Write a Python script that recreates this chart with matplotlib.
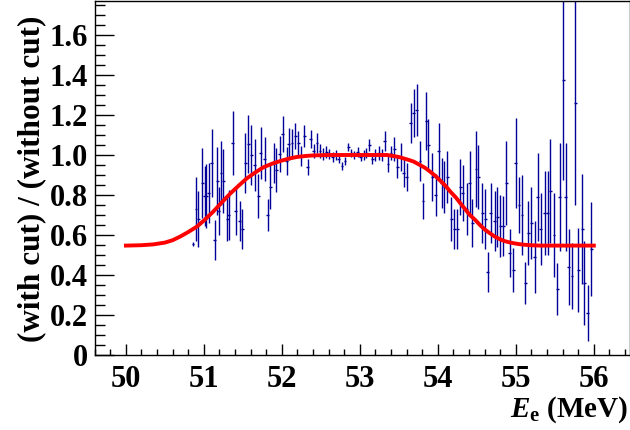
import matplotlib
matplotlib.use("Agg")
import matplotlib.pyplot as plt
from matplotlib.ticker import MultipleLocator, FuncFormatter

# measured ratio points (E in MeV)
e_vals = [50.86, 50.90, 50.93, 50.98, 51.01, 51.03, 51.06, 51.10, 51.14, 51.17,
          51.19, 51.22, 51.25, 51.30, 51.32, 51.37, 51.41, 51.46, 51.49, 51.53,
          51.57, 51.61, 51.65, 51.70, 51.73, 51.78, 51.82,
          51.85, 51.90, 51.93, 51.97, 52.01, 52.06, 52.09, 52.13, 52.17, 52.21,
          52.25, 52.29, 52.33, 52.37, 52.41, 52.45, 52.49, 52.53, 52.57, 52.61,
          52.65, 52.69, 52.73, 52.77, 52.81,
          52.85, 52.89, 52.93, 52.97, 53.01, 53.05, 53.08, 53.12, 53.16, 53.20,
          53.24, 53.28, 53.32, 53.36, 53.40, 53.44, 53.48, 53.53, 53.56, 53.60,
          53.65, 53.69, 53.73, 53.77, 53.81, 53.85, 53.88,
          53.93, 53.97, 54.01, 54.05, 54.08, 54.12, 54.17, 54.21, 54.25, 54.29,
          54.32, 54.37, 54.41, 54.44, 54.49, 54.52, 54.57, 54.61, 54.64, 54.68,
          54.73, 54.76, 54.80, 54.84, 54.88, 54.92,
          54.97, 55.00, 55.04, 55.08, 55.12, 55.16, 55.20, 55.24, 55.28, 55.32,
          55.37, 55.41, 55.44, 55.49, 55.53, 55.56, 55.61, 55.64, 55.68, 55.72,
          55.76, 55.80, 55.85, 55.88, 55.92, 55.97]

ratio = [0.557, 0.73, 0.68, 0.86, 0.795, 0.795, 0.81, 0.96, 0.575, 0.87,
         0.72, 0.91, 0.87, 0.68, 0.70, 1.06, 0.72, 0.67, 0.63, 0.96,
         1.055, 1.00, 0.95, 0.795, 1.01, 0.98, 0.70,
         0.84, 0.96, 0.925, 1.005, 1.105, 0.97, 1.055, 1.06, 1.095, 1.06,
         0.995, 1.095, 0.94, 1.08, 1.02, 1.06, 1.02, 1.005, 1.015, 1.005,
         0.99, 1.00, 0.98, 0.945, 0.97,
         1.04, 1.01, 1.00, 1.015, 0.99, 1.00, 1.01, 1.05, 0.98, 1.00,
         1.01, 1.00, 1.07, 0.955, 1.01, 1.03, 0.94, 0.99, 0.91, 0.89,
         1.16, 1.21, 1.225, 0.97, 0.77, 1.17, 1.05,
         0.89, 0.80, 1.02, 0.86, 0.84, 0.89, 0.68, 0.63, 0.63, 0.84,
         0.81, 0.73, 0.86, 0.66, 0.93, 0.89, 0.71, 0.68, 0.415, 0.71,
         0.67, 0.69, 0.645, 0.645, 0.86, 0.51,
         0.425, 0.96, 0.75, 0.70, 0.36, 0.61, 0.66, 0.49, 0.79, 0.63,
         0.71, 0.71, 0.82, 0.60, 0.33, 0.79, 1.375, 0.79, 0.44, 0.395,
         1.26, 0.425, 0.63, 0.36, 0.21, 0.53]

ratio_err = [0.01, 0.16, 0.14, 0.175, 0.15, 0.16, 0.15, 0.17, 0.10, 0.17,
             0.12, 0.16, 0.16, 0.11, 0.125, 0.16, 0.12, 0.10, 0.10, 0.15,
             0.145, 0.15, 0.13, 0.11, 0.13, 0.11, 0.08,
             0.11, 0.10, 0.11, 0.09, 0.09, 0.07, 0.08, 0.07, 0.065, 0.06,
             0.05, 0.055, 0.04, 0.045, 0.035, 0.05, 0.035, 0.03, 0.03, 0.025,
             0.025, 0.025, 0.02, 0.02, 0.02,
             0.022, 0.02, 0.022, 0.023, 0.022, 0.025, 0.025, 0.03, 0.025, 0.032,
             0.035, 0.03, 0.05, 0.04, 0.035, 0.06, 0.055, 0.07, 0.07, 0.07,
             0.10, 0.12, 0.13, 0.10, 0.09, 0.145, 0.13,
             0.12, 0.105, 0.14, 0.125, 0.13, 0.13, 0.11, 0.10, 0.10, 0.14,
             0.14, 0.13, 0.16, 0.12, 0.19, 0.16, 0.15, 0.15, 0.10, 0.15,
             0.15, 0.15, 0.155, 0.15, 0.21, 0.12,
             0.11, 0.225, 0.14, 0.20, 0.105, 0.16, 0.18, 0.18, 0.22, 0.18,
             0.21, 0.21, 0.26, 0.21, 0.13, 0.27, 0.50, 0.27, 0.19, 0.165,
             0.51, 0.21, 0.275, 0.21, 0.14, 0.235]

# fitted curve
fit_x = [50.0, 50.2, 50.35, 50.5, 50.6, 50.7, 50.8, 50.91, 51.0, 51.12, 51.23,
         51.34, 51.45, 51.55, 51.66, 51.76, 51.87, 51.98, 52.09, 52.19, 52.3,
         52.41, 52.62, 52.8, 53.0, 53.2, 53.35, 53.43, 53.5, 53.56, 53.63,
         53.69, 53.77, 53.84, 53.9, 53.97, 54.03, 54.1, 54.16, 54.23, 54.29,
         54.35, 54.41, 54.48, 54.54, 54.6, 54.67, 54.73, 54.8, 54.86, 54.93,
         55.0, 55.05, 55.12, 55.18, 55.31, 55.5, 55.75, 56.0]
fit_y = [0.547, 0.549, 0.553, 0.562, 0.574, 0.593, 0.615, 0.642, 0.672, 0.717, 0.763,
         0.808, 0.848, 0.883, 0.913, 0.938, 0.956, 0.970, 0.982, 0.990, 0.995,
         0.998, 1.0, 1.0, 1.0, 1.0, 1.0, 0.995, 0.99, 0.983, 0.975,
         0.967, 0.95, 0.935, 0.917, 0.895, 0.872, 0.845, 0.817, 0.788, 0.758,
         0.729, 0.70, 0.675, 0.65, 0.628, 0.608, 0.592, 0.578, 0.569, 0.562,
         0.557, 0.554, 0.551, 0.549, 0.547, 0.547, 0.547, 0.547]

plt.rcParams["font.family"] = ["Liberation Serif", "DejaVu Serif"]
plt.rcParams["font.weight"] = "bold"
plt.rcParams["mathtext.fontset"] = "custom"
plt.rcParams["mathtext.rm"] = "Liberation Serif:bold"
plt.rcParams["mathtext.bf"] = "Liberation Serif:bold"
plt.rcParams["mathtext.it"] = "Liberation Serif:bold:italic"

fig = plt.figure(figsize=(6.3, 4.3), dpi=100)
ax = fig.add_axes([94.7 / 630, 75 / 430, 535 / 630, 354 / 430])

ax.errorbar(e_vals, ratio, yerr=ratio_err, xerr=0.018, fmt="none",
            ecolor="#000099", elinewidth=1.0, capsize=0, zorder=2)
ax.plot(fit_x, fit_y, color="#ff0000", lw=2.8, zorder=3)

ax.set_xlim(49.6, 56.46)
ax.set_ylim(0, 1.77)

ax.xaxis.set_major_locator(MultipleLocator(1))
ax.xaxis.set_minor_locator(MultipleLocator(0.2))
ax.yaxis.set_major_locator(MultipleLocator(0.2))
ax.yaxis.set_minor_locator(MultipleLocator(0.05))
ax.yaxis.set_major_formatter(FuncFormatter(lambda v, p: "0" if abs(v) < 1e-9 else f"{v:.1f}"))

ax.tick_params(axis="both", which="both", direction="in", top=False, right=False,
               color="black", width=1.0)
ax.tick_params(axis="x", which="major", length=8, labelsize=22, pad=7)
ax.tick_params(axis="x", which="minor", length=4)
ax.tick_params(axis="y", which="major", length=14, labelsize=22, pad=5)
ax.tick_params(axis="y", which="minor", length=7)

for s in ax.spines.values():
    s.set_linewidth(1.0)

fig.text(32 / 630, 1 - 179 / 430, "(with cut) / (without cut)", rotation=90,
         ha="center", va="center", fontsize=22.5, fontweight="bold")
fig.text(628 / 630, 13 / 430, r"$\mathit{E}_{\mathrm{e}}$ (MeV)", ha="right",
         va="baseline", fontsize=21, fontweight="bold")

fig.savefig("out.png", dpi=100)
